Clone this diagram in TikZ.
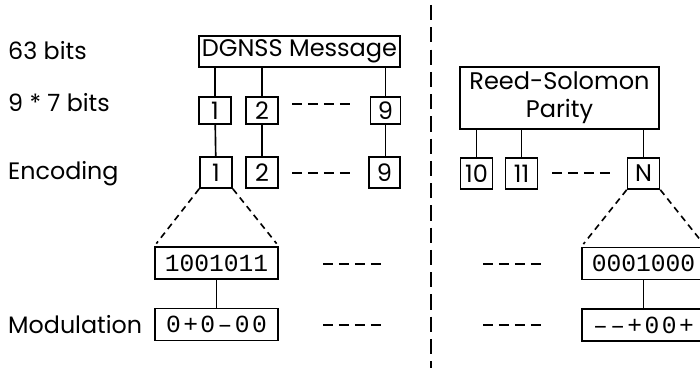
\documentclass[tikz,border=0pt]{standalone}
\usepackage{fontspec}
\setmainfont{Poppins}
\newfontfamily\bitfont{Liberation Mono}
\newfontfamily\modfont[LetterSpace=10]{Liberation Mono}
\usepackage{tikz}
\usepackage{xcolor}
\tikzstyle{cell}=[draw,line width=1.4pt,inner sep=0,minimum width=0.96cm,minimum height=0.93cm,font=\fontsize{20.5}{24}\selectfont]
\tikzstyle{wide}=[cell,minimum width=3.69cm,minimum height=0.95cm,font=\fontsize{21}{23}\bitfont]
\tikzstyle{rowtext}=[anchor=west,inner sep=0,font=\fontsize{20.3}{24}\selectfont]
\tikzstyle{wire}=[line width=1.4pt]
\tikzstyle{gap}=[line width=1.7pt,dash pattern=on 8.5pt off 5.1pt]
\tikzstyle{fan}=[line width=1.4pt,dash pattern=on 5.5pt off 4pt,shorten >=3pt]
\tikzstyle{divider}=[line width=1.8pt,dash pattern=on 13pt off 6pt]

\begin{document}
\begin{tikzpicture}[x=0.03cm,y=-0.03cm]
	\useasboundingbox (0,0) rectangle (700,368);
	\node[rowtext] at (8,51)   (t1) {63 bits};
	\node[rowtext] at (8,103)  (t2) {9 * 7 bits};
	\node[rowtext] at (8,174)  (t3) {Encoding};
	\node[rowtext] at (8,325)  (t4) {Modulation};
	
	\node[cell,minimum width=6.03cm] at (299.5,51.5) (dgnss) {DGNSS Message};
	\node[cell,minimum height=0.81cm] at (215,110.5) (b1) {1};
	\node[cell,minimum height=0.81cm] at (262,110.5) (b2) {2};
	\node[cell,minimum height=0.81cm,minimum width=0.9cm] at (385.5,110.5) (b9) {9};
	\node[cell] at (216,172.5) (e1) {1};
	\node[cell] at (262,172.5) (e2) {2};
	\node[cell,minimum width=0.93cm] at (384.5,172.5) (e9) {9};
	\node[wide] at (216.5,263) (bitsL) {1001011};
	\node[wide,font=\fontsize{21}{23}\modfont] at (216.5,324.5) (modL) {0+0–00};
	
	\node[cell,minimum width=5.97cm,minimum height=1.86cm,align=center] at (559.5,98) (rs) {Reed-Solomon\\Parity};
	\node[cell] at (476.5,173.5) (p10) {10};
	\node[cell] at (521.5,173.5) (p11) {11};
	\node[cell] at (643.5,173.5) (pN) {N};
	\node[wide] at (643.5,263.5) (bitsR) {0001000};
	\node[wide,font=\fontsize{21}{23}\modfont] at (643.5,325) (modR) {––+00+};
	
	\draw[wire] (b1.north) -- (b1.north |- dgnss.south);
	\draw[wire] (b2.north) -- (b2.north |- dgnss.south);
	\draw[wire] (b9.north) -- (b9.north |- dgnss.south);
	\draw[wire] (b1) -- (e1);
	\draw[wire] (b2) -- (e2);
	\draw[wire] (b9.south) -- (b9.south |- e9.north);
	\draw[wire] (p10.north) -- (p10.north |- rs.south);
	\draw[wire] (p11.north) -- (p11.north |- rs.south);
	\draw[wire] (pN.north) -- (pN.north |- rs.south);
	\draw[wire] (bitsL) -- (modL);
	\draw[wire] (bitsR) -- (modR);
	
	\draw[fan] (e1.south west) -- (bitsL.north west);
	\draw[fan] (e1.south east) -- (bitsL.north east);
	\draw[fan] (pN.south west) -- (bitsR.north west);
	\draw[fan] (pN.south east) -- (bitsR.north east);
	
	\coordinate (g1a) at (292,104);
	\coordinate (g1b) at (350,104);
	\coordinate (g2a) at (292,173);
	\coordinate (g2b) at (350,173);
	\coordinate (g3a) at (323,264);
	\coordinate (g3b) at (381,264);
	\coordinate (g4a) at (323,325);
	\coordinate (g4b) at (381,325);
	\coordinate (g5a) at (552,173);
	\coordinate (g5b) at (610,173);
	\coordinate (g6a) at (483,264);
	\coordinate (g6b) at (541,264);
	\coordinate (g7a) at (483,325);
	\coordinate (g7b) at (541,325);
	\draw[gap] (g1a) -- (g1b);
	\draw[gap] (g2a) -- (g2b);
	\draw[gap] (g3a) -- (g3b);
	\draw[gap] (g4a) -- (g4b);
	\draw[gap] (g5a) -- (g5b);
	\draw[gap] (g6a) -- (g6b);
	\draw[gap] (g7a) -- (g7b);
	
	\coordinate (top) at (431,5);
	\coordinate (bottom) at (431,368);
	\draw[divider] (top) -- (bottom);
\end{tikzpicture}
\end{document}
